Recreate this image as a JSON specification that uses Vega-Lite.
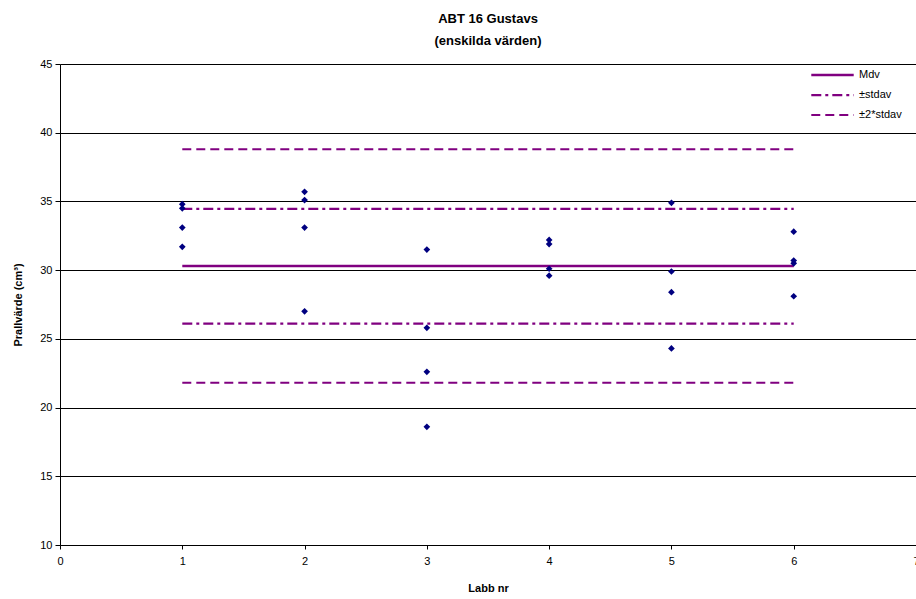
{
  "$schema": "https://vega.github.io/schema/vega-lite/v6.json",
  "width": 856,
  "height": 481,
  "autosize": {"type": "none"},
  "padding": {"left": 60, "top": 64, "right": 0, "bottom": 54},
  "background": "white",
  "config": {
    "font": "Liberation Sans",
    "view": {"stroke": null},
    "axis": {"labelFont": "Liberation Sans", "titleFont": "Liberation Sans", "labelColor": "black", "titleColor": "black", "domainColor": "black", "tickColor": "black"},
    "legend": {"title": null, "orient": "none", "legendX": 750, "legendY": 4, "symbolType": "stroke", "symbolSize": 1800, "labelFontSize": 11, "labelFont": "Liberation Sans", "labelColor": "black", "rowPadding": 6, "clipHeight": 14, "labelOffset": 4}
  },
  "title": {
    "text": ["ABT 16 Gustavs", "(enskilda värden)"],
    "font": "Liberation Sans",
    "fontSize": 13,
    "fontWeight": "bold",
    "color": "black",
    "anchor": "middle",
    "offset": 10,
    "lineHeight": 22
  },
  "datasets": {
    "points": [
      {"labb": 1, "value": 34.8}, {"labb": 1, "value": 34.5}, {"labb": 1, "value": 33.1}, {"labb": 1, "value": 31.7},
      {"labb": 2, "value": 35.7}, {"labb": 2, "value": 35.1}, {"labb": 2, "value": 33.1}, {"labb": 2, "value": 27.0},
      {"labb": 3, "value": 31.5}, {"labb": 3, "value": 25.8}, {"labb": 3, "value": 22.6}, {"labb": 3, "value": 18.6},
      {"labb": 4, "value": 32.2}, {"labb": 4, "value": 31.9}, {"labb": 4, "value": 30.1}, {"labb": 4, "value": 29.6},
      {"labb": 5, "value": 34.9}, {"labb": 5, "value": 29.9}, {"labb": 5, "value": 28.4}, {"labb": 5, "value": 24.3},
      {"labb": 6, "value": 32.8}, {"labb": 6, "value": 30.7}, {"labb": 6, "value": 30.5}, {"labb": 6, "value": 28.1}
    ],
    "lines": [
      {"series": "Mdv", "start": 1, "end": 6, "value": 30.3},
      {"series": "±stdav", "start": 1, "end": 6, "value": 34.45},
      {"series": "±stdav", "start": 1, "end": 6, "value": 26.1},
      {"series": "±2*stdav", "start": 1, "end": 6, "value": 38.8},
      {"series": "±2*stdav", "start": 1, "end": 6, "value": 21.8}
    ]
  },
  "layer": [
    {
      "data": {"name": "lines"},
      "mark": {"type": "rule"},
      "encoding": {
        "y": {
          "field": "value", "type": "quantitative",
          "scale": {"domain": [10, 45], "nice": false, "zero": false},
          "axis": {
            "title": "Prallvärde (cm³)", "titleFontSize": 11, "titleFontWeight": "bold", "titlePadding": 16,
            "values": [10, 15, 20, 25, 30, 35, 40, 45], "labelFontSize": 11, "tickSize": 5, "labelPadding": 3,
            "grid": true, "gridColor": "black", "gridOpacity": 1, "gridWidth": 1, "domainWidth": 1
          }
        },
        "x": {
          "field": "start", "type": "quantitative",
          "scale": {"domain": [0, 7], "nice": false},
          "axis": {
            "title": "Labb nr", "titleFontSize": 11, "titleFontWeight": "bold", "titlePadding": 16,
            "values": [0, 1, 2, 3, 4, 5, 6, 7], "format": "d", "labelFontSize": 11, "tickSize": 4, "labelPadding": 6,
            "grid": false, "domainWidth": 1, "labelFlush": false
          }
        },
        "x2": {"field": "end"},
        "color": {
          "field": "series", "type": "nominal",
          "scale": {"domain": ["Mdv", "±stdav", "±2*stdav"], "range": ["#800080", "#800080", "#800080"]}
        },
        "strokeDash": {
          "field": "series", "type": "nominal",
          "scale": {"domain": ["Mdv", "±stdav", "±2*stdav"], "range": [[1, 0], [10, 4, 3, 4], [9, 5]]}
        },
        "strokeWidth": {
          "field": "series", "type": "nominal",
          "scale": {"domain": ["Mdv", "±stdav", "±2*stdav"], "range": [2.5, 2, 2]}
        }
      }
    },
    {
      "data": {"name": "points"},
      "mark": {"type": "point", "shape": "diamond", "filled": true, "color": "#000080", "size": 45, "opacity": 1},
      "encoding": {
        "x": {"field": "labb", "type": "quantitative"},
        "y": {"field": "value", "type": "quantitative"}
      }
    }
  ]
}
